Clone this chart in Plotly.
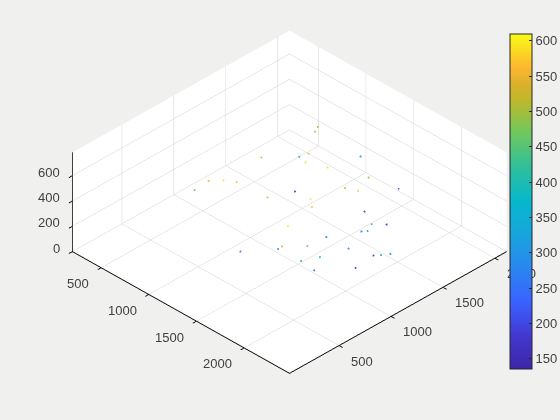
import plotly.graph_objects as go

x_vals = [912, 976, 1184, 868, 1163, 948, 1285, 1437, 1627, 904, 1023, 1069, 818, 1004, 1673, 1814, 1594, 1342, 1664, 1713,
          1569, 1902, 1783, 1993, 1810, 1806, 1724, 1876, 1619, 1933, 1363, 1915, 2220, 2312, 2016, 1986, 1959, 2049, 1901]
y_vals = [1731, 1644, 1392, 1592, 1912, 1155, 1270, 1343, 1564, 687, 720, 805, 631, 1425, 1293, 1289, 1883, 851, 971, 938,
          1578, 1341, 1594, 1218, 1325, 622, 1067, 499, 700, 692, 571, 1107, 1230, 1054, 1252, 765, 610, 1051, 788]
z_vals = [500, 530, 560, 310, 290, 540, 590, 580, 480, 550, 590, 560, 470, 170, 540, 580, 230, 530, 600, 570,
          180, 330, 160, 370, 240, 605, 280, 530, 310, 470, 240, 250, 280, 390, 170, 370, 400, 180, 220]

x_ticks = [500, 1000, 1500, 2000]
y_ticks = [500, 1000, 1500, 2000]
z_ticks = [0, 200, 400, 600]
cbar_ticks = [150, 200, 250, 300, 350, 400, 450, 500, 550, 600]
x_range = [198, 2476]
y_range = [23, 2113]
z_range = [0, 784]

parula = [[0.0, "#3e26a8"], [0.1, "#4238d0"], [0.2, "#3a62ff"], [0.3, "#2a86f0"], [0.4, "#18a4dc"],
          [0.5, "#06b8cc"], [0.6, "#2dbf9c"], [0.7, "#6cc860"], [0.8, "#bdb92c"], [0.85, "#dcb02a"],
          [0.9, "#fcb830"], [1.0, "#f9fb15"]]

txt = "#404040"
font = dict(family="Liberation Sans, Arial, sans-serif", size=13, color=txt)
ax = dict(showbackground=True, backgroundcolor="white", showgrid=True, gridcolor="#d0d0d0", gridwidth=1,
          showline=True, linecolor="#000000", linewidth=2, ticks="outside", ticklen=5, tickcolor="#000000", tickwidth=2,
          showticklabels=False, zeroline=False, showspikes=False, title=dict(text=""), tickmode="array")

labels = []
for t in x_ticks:
    labels.append(dict(x=t, y=y_range[0], z=z_range[0], text=str(t), showarrow=False, font=font,
                       xanchor="right", yanchor="middle", xshift=-10, yshift=-16))
for t in y_ticks:
    labels.append(dict(x=x_range[1], y=t, z=z_range[0], text=str(t), showarrow=False, font=font,
                       xanchor="left", yanchor="middle", xshift=10, yshift=-15.5))
for t in z_ticks:
    labels.append(dict(x=x_range[0], y=y_range[0], z=t, text=str(t), showarrow=False, font=font,
                       xanchor="right", yanchor="middle", xshift=-10, yshift=3.5))

fig = go.Figure(go.Scatter3d(
    x=x_vals, y=y_vals, z=z_vals, mode="markers",
    marker=dict(size=1.2, color=z_vals, cmin=135, cmax=609, colorscale=parula, opacity=0.85,
                colorbar=dict(x=510 / 560, xanchor="left", xpad=0, y=0.5 + (420 / 2 - 201.8) / 420, yanchor="middle", ypad=0,
                              thickness=21.5, thicknessmode="pixels", len=335, lenmode="pixels",
                              tickvals=cbar_ticks, ticks="inside", ticklen=3, tickcolor="#262626",
                              outlinecolor="#262626", outlinewidth=1, tickfont=font)),
    showlegend=False, hoverinfo="skip"))

fig.update_layout(
    width=560, height=420, margin=dict(l=0, r=0, t=0, b=0), paper_bgcolor="#f0f0ef",
    scene=dict(
        domain=dict(x=[20 / 560, 1], y=[16 / 420, 1]),
        bgcolor="rgba(0,0,0,0)",
        xaxis=dict(ax, range=x_range, tickvals=x_ticks),
        yaxis=dict(ax, range=y_range, tickvals=y_ticks),
        zaxis=dict(ax, range=z_range, tickvals=z_ticks),
        aspectmode="manual", aspectratio=dict(x=1.52, y=1.52, z=0.593),
        camera=dict(projection=dict(type="orthographic"), eye=dict(x=1.3, y=-1.3, z=1.245),
                    up=dict(x=0, y=0, z=1), center=dict(x=0, y=0, z=0)),
        annotations=labels,
    ),
)
post = """
document.body.style.margin='0';document.body.style.background='#f0f0ef';
function raiseBar(){var c=document.querySelector('g.colorbar');if(c){c.parentNode.appendChild(c);}}
raiseBar();setTimeout(raiseBar,100);setTimeout(raiseBar,500);
"""
fig.write_html("out.html", config={"displayModeBar": False}, post_script=post)
